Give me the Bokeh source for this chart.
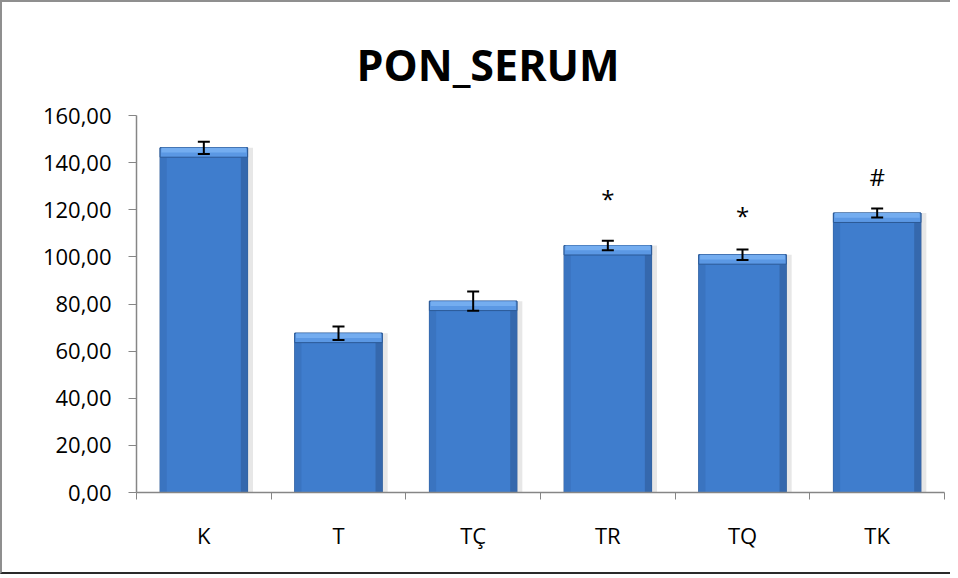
from bokeh.plotting import figure
from bokeh.models import ColumnDataSource, FixedTicker, Range1d, Whisker, TeeHead, Title
from bokeh.core.properties import value
from bokeh.embed import file_html
from bokeh.resources import INLINE

categories = ["K", "T", "TÇ", "TR", "TQ", "TK"]
means = [146.3, 67.6, 81.2, 104.8, 100.9, 118.6]
errors = [2.6, 2.9, 4.1, 2.0, 2.2, 1.9]
marks = ["", "", "", "*", "*", "#"]
mark_y = [None, None, None, 124.9, 117.6, 134.2]
y_ticks = [0, 20, 40, 60, 80, 100, 120, 140, 160]
y_tick_labels = ["0,00", "20,00", "40,00", "60,00", "80,00", "100,00", "120,00", "140,00", "160,00"]
title_text = "PON_SERUM"

xpos = [i + 0.5 for i in range(len(categories))]
src = ColumnDataSource(dict(
    x=xpos, top=means,
    upper=[m + e for m, e in zip(means, errors)],
    lower=[m - e for m, e in zip(means, errors)],
    band=[m - 4.0 for m in means],
    band2=[m - 2.0 for m in means],
    xr=[x + 0.3 for x in xpos],
    xl=[x - 0.3 for x in xpos],
    xs=[x + 0.03 for x in xpos],
))
msrc = ColumnDataSource(dict(
    x=[x for x, m in zip(xpos, marks) if m],
    y=[y for y, m in zip(mark_y, marks) if m],
    t=[m for m in marks if m],
))

FONT = "Open Sans"
p = figure(width=950, height=574, output_backend="svg", toolbar_location=None,
           x_range=Range1d(0, len(categories)), y_range=Range1d(0, 160),
           min_border_left=134, min_border_right=8, min_border_bottom=84, min_border_top=113)
p.grid.visible = False
p.outline_line_color = None
p.background_fill_color = "white"
p.border_fill_color = "white"
p.styles = {"border-left": "2px solid #8f8f8f", "border-top": "2px solid #8f8f8f",
            "border-bottom": "2px solid #2a2a2a"}

t = Title(text=title_text, text_font=FONT, text_font_size="43px", text_font_style="bold",
          text_color="black", align="left", offset=220, standoff=40,
          vertical_align="top", text_line_height=0.8)
p.add_layout(t, "above")

# shadow
p.vbar(x="xs", width=0.67, top="top", bottom=0, source=src, fill_color="#d0d0d0",
       line_color=None, fill_alpha=0.5)
# main bar
p.vbar(x="x", width=0.65, top="top", bottom=0, source=src, fill_color="#3f7dcd",
       line_color="#2b5996", line_width=1)
# side shading
p.vbar(x="xr", width=0.05, top="band", bottom=0, source=src, fill_color="#3568ad",
       line_color=None)
p.vbar(x="xl", width=0.05, top="band", bottom=0, source=src, fill_color="#3a74c0",
       line_color=None)
# top bevel
p.vbar(x="x", width=0.65, top="top", bottom="band", source=src, fill_color="#5b98e4",
       line_color="#2b5996", line_width=1)
p.vbar(x="x", width=0.63, top="top", bottom="band2", source=src, fill_color="#74adf0",
       line_color=None)

w = Whisker(base="x", upper="upper", lower="lower", source=src, line_color="black",
            line_width=2, level="overlay",
            upper_head=TeeHead(size=12, line_width=2, line_color="black"),
            lower_head=TeeHead(size=12, line_width=2, line_color="black"))
p.add_layout(w)

p.text(x="x", y="y", text="t", source=msrc, text_font=value(FONT), text_font_size="24px",
       text_align="center", text_baseline="middle", text_color="black")

xa = p.xaxis[0]
xa.ticker = FixedTicker(ticks=xpos, minor_ticks=list(range(len(categories) + 1)))
xa.major_label_overrides = {x: c for x, c in zip(xpos, categories)}
xa.major_tick_line_color = None
xa.minor_tick_line_color = "#868686"
xa.minor_tick_out = 7
xa.minor_tick_in = 0
xa.axis_line_color = "#868686"
xa.axis_line_width = 1.5
xa.major_label_text_font = FONT
xa.major_label_text_font_size = "22px"
xa.major_label_text_color = "black"
xa.major_label_standoff = 20

ya = p.yaxis[0]
ya.ticker = FixedTicker(ticks=y_ticks)
ya.major_label_overrides = {v: l for v, l in zip(y_ticks, y_tick_labels)}
ya.minor_tick_line_color = None
ya.major_tick_line_color = "#868686"
ya.major_tick_out = 8
ya.major_tick_in = 0
ya.axis_line_color = "#868686"
ya.axis_line_width = 1.5
ya.major_label_text_font = FONT
ya.major_label_text_font_size = "22px"
ya.major_label_text_color = "black"
ya.major_label_standoff = 17

open("out.html", "w").write(file_html(p, INLINE))
